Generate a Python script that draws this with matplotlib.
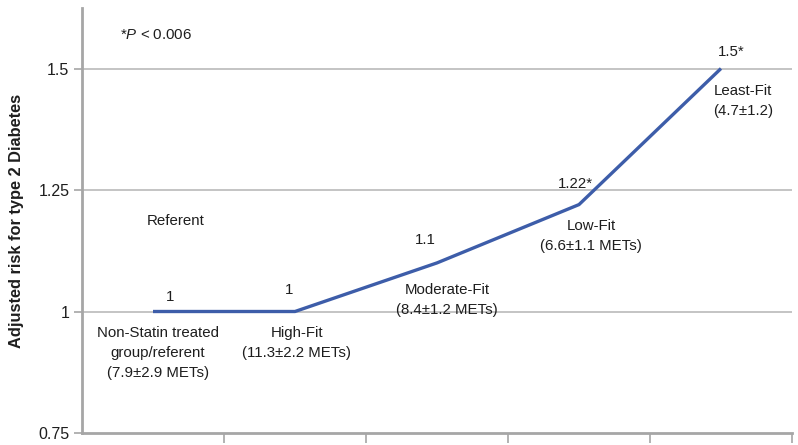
import matplotlib
matplotlib.use("Agg")
import matplotlib.pyplot as plt

plt.rcParams['font.family'] = ['Liberation Sans', 'DejaVu Sans']
plt.rcParams['mathtext.fontset'] = 'custom'
plt.rcParams['mathtext.it'] = 'Liberation Sans:italic'
plt.rcParams['mathtext.rm'] = 'Liberation Sans'

# fitness groups, left to right
groups = ["Non-Statin treated\ngroup/referent\n(7.9\u00b12.9 METs)",
          "High-Fit\n(11.3\u00b12.2 METs)",
          "Moderate-Fit\n(8.4\u00b11.2 METs)",
          "Low-Fit\n(6.6\u00b11.1 METs)",
          "Least-Fit\n(4.7\u00b11.2)"]
risk = [1.0, 1.0, 1.1, 1.22, 1.5]
risk_labels = ["1", "1", "1.1", "1.22*", "1.5*"]
yticks = [0.75, 1.0, 1.25, 1.5]
ytick_labels = ["0.75", "1", "1.25", "1.5"]

# label offsets in pixels relative to each point
value_off = [(17, 11), (-6, 18), (-12, 19), (-4, 17), (10, 13)]
group_off = [(5, -14), (2, -14), (10, -20), (12, -14), (22, -15)]

txt = "#1e1e1e"
grey = "#a6a6a6"
fs = 10.8

fig = plt.figure(figsize=(7.98, 4.45), dpi=100)
ax = fig.add_axes([82 / 798, 12 / 445, 710 / 798, 425 / 445])

x = list(range(len(risk)))
ax.plot(x, risk, color="#3d5da9", lw=2.4, solid_capstyle="butt", zorder=3)

ax.set_xlim(-0.5, len(risk) - 0.5)
ax.set_ylim(0.75, 1.6245)

for y in yticks[1:]:
    ax.axhline(y, color="#b4b4b4", lw=1.1, zorder=1)

ax.set_yticks(yticks)
ax.set_yticklabels(ytick_labels)
ax.set_xticks([i - 0.5 for i in range(1, len(risk))] + [len(risk) - 0.5])
ax.set_xticklabels([])
ax.tick_params(axis="y", length=6, width=1.2, color=grey, labelsize=11.5,
               labelcolor=txt, pad=3)
ax.tick_params(axis="x", length=7, width=1.2, color=grey)

for s in ["top", "right"]:
    ax.spines[s].set_visible(False)
for s in ["left", "bottom"]:
    ax.spines[s].set_color(grey)
    ax.spines[s].set_linewidth(2)

ax.set_ylabel("Adjusted risk for type 2 Diabetes", fontsize=11.8, fontweight="bold",
              color=txt, labelpad=10)

for i, (xv, yv) in enumerate(zip(x, risk)):
    ax.annotate(risk_labels[i], (xv, yv), xytext=value_off[i],
                textcoords="offset pixels", ha="center", va="baseline",
                fontsize=fs, color=txt)
    ax.annotate(groups[i], (xv, yv), xytext=group_off[i],
                textcoords="offset pixels", ha="center", va="top",
                fontsize=fs, color=txt, linespacing=1.55)

ax.text(-0.23, 1.569, r"*$\it{P}$ < 0.006", fontsize=fs, color=txt, va="center")
ax.text(0.16, 1.186, "Referent", fontsize=fs, color=txt, ha="center", va="center")

fig.savefig("out.png", dpi=100)
